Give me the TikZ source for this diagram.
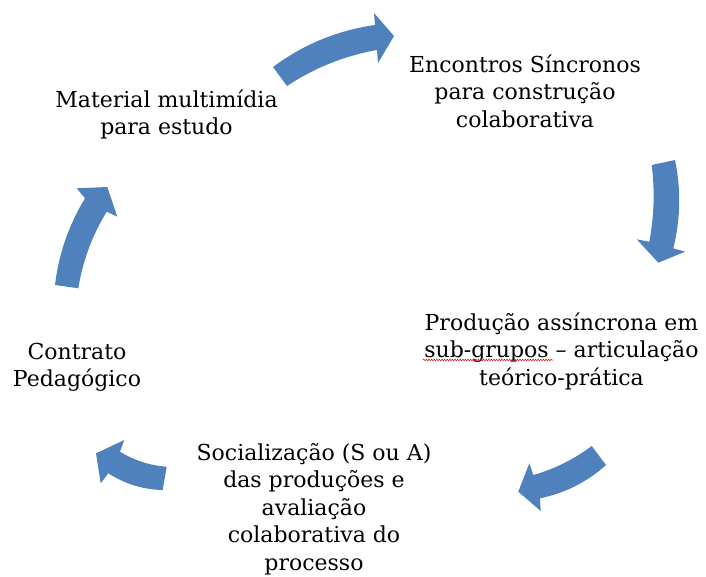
\documentclass[tikz,border=0pt]{standalone}
\usepackage{fontspec}
\setmainfont{DejaVu Serif}
\usetikzlibrary{decorations.pathmorphing,calc}
\definecolor{arrowblue}{HTML}{4F81BD}
\tikzset{
  cyclearrow/.style={fill=arrowblue, draw=none},
  cycletext/.style={anchor=base, inner sep=0pt, text=black,
    font=\fontsize{22}{27.6}\selectfont},
  spellmark/.style={draw=red!85!black, line width=0.5pt,
    decorate, decoration={snake, amplitude=0.8pt, segment length=2.6pt}}
}
\newcommand{\cyctext}[1]{\begin{tabular}[t]{@{}c@{}}#1\end{tabular}}
% quadratic curve from #1 to #3 with control #2, as a cubic
\newcommand{\qcurve}[3]{.. controls ($#1!2/3!#2$) and ($#3!2/3!#2$) .. #3}
\begin{document}
\begin{tikzpicture}[x=1pt,y=-1pt]
\useasboundingbox (0,0) rectangle (706,576);
% arrows
\fill[cyclearrow] (273,67) \qcurve{(273,67)}{(318.7,33)}{(375,25)} -- (374,13) -- (394,36) -- (378,63) -- (377,50) \qcurve{(377,50)}{(328.2,58.7)}{(287,86)} -- cycle;
\fill[cyclearrow] (651.7,165) -- (675,160) \qcurve{(675,160)}{(684.2,204.2)}{(673.3,248.3)} -- (685,251.7) -- (658.3,262.7) -- (636.7,239.3) -- (649.3,241.7) \qcurve{(649.3,241.7)}{(656.5,203.4)}{(651.7,165)} -- cycle;
\fill[cyclearrow] (591.7,446) \qcurve{(591.7,446)}{(565.2,465.9)}{(533.3,475)} -- (529.3,463.3) -- (518.3,491.7) -- (540.7,511) -- (540,498.3) \qcurve{(540,498.3)}{(577.5,490.6)}{(606,465)} -- cycle;
\fill[cyclearrow] (166.7,466.7) \qcurve{(166.7,466.7)}{(141.6,464.9)}{(120,451.7)} -- (124.3,440) -- (96,453.3) -- (100.7,483.3) -- (108.3,473.3) \qcurve{(108.3,473.3)}{(133.2,489.3)}{(162.7,490)} -- cycle;
\fill[cyclearrow] (55,285) \qcurve{(55,285)}{(60.6,238.4)}{(85,198.3)} -- (76.7,188.3) -- (107.3,187) -- (117.3,216.7) -- (106.7,211.7) \qcurve{(106.7,211.7)}{(84.9,247.4)}{(78.3,288.3)} -- cycle;
% texts
\node[cycletext] (material) at (166.5,107) {\cyctext{Material multimídia\\para estudo}};
\node[cycletext] (encontros) at (525,72) {\cyctext{Encontros Síncronos\\para construção\\colaborativa}};
\node[cycletext] (producao) at (561.5,330) {\cyctext{Produção assíncrona em\\sub-grupos – articulação\\teórico-prática}};
\node[cycletext] (socializacao) at (314,460) {\cyctext{Socialização (S ou A)\\das produções e\\avaliação\\colaborativa do\\processo}};
\node[cycletext] (contrato) at (77,359) {\cyctext{Contrato\\Pedagógico}};
% spell-check mark under "sub-grupos"
\coordinate (sq1) at (423,360);
\coordinate (sq2) at (553,360);
\draw[spellmark] (sq1) -- (sq2);
\end{tikzpicture}
\end{document}
